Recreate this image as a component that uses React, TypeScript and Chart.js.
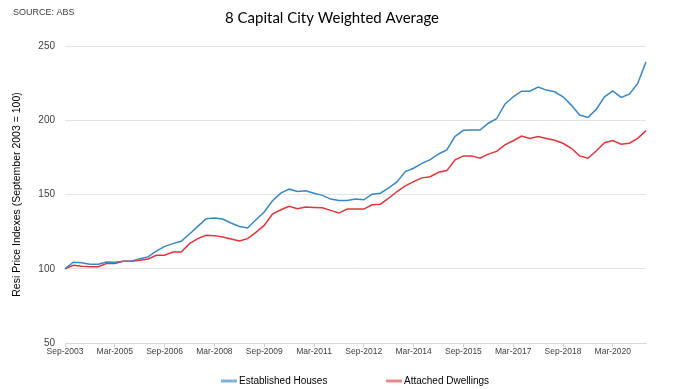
import { useEffect, useRef } from 'react';
import { Chart, registerables } from 'chart.js';
Chart.register(...registerables);

const categories = [
  'Sep-2003', 'Dec-2003', 'Mar-2004', 'Jun-2004', 'Sep-2004', 'Dec-2004', 'Mar-2005', 'Jun-2005',
  'Sep-2005', 'Dec-2005', 'Mar-2006', 'Jun-2006', 'Sep-2006', 'Dec-2006', 'Mar-2007', 'Jun-2007',
  'Sep-2007', 'Dec-2007', 'Mar-2008', 'Jun-2008', 'Sep-2008', 'Dec-2008', 'Mar-2009', 'Jun-2009',
  'Sep-2009', 'Dec-2009', 'Mar-2010', 'Jun-2010', 'Sep-2010', 'Dec-2010', 'Mar-2011', 'Jun-2011',
  'Sep-2011', 'Dec-2011', 'Mar-2012', 'Jun-2012', 'Sep-2012', 'Dec-2012', 'Mar-2013', 'Jun-2013',
  'Sep-2013', 'Dec-2013', 'Mar-2014', 'Jun-2014', 'Sep-2014', 'Dec-2014', 'Mar-2015', 'Jun-2015',
  'Sep-2015', 'Dec-2015', 'Mar-2016', 'Jun-2016', 'Sep-2016', 'Dec-2016', 'Mar-2017', 'Jun-2017',
  'Sep-2017', 'Dec-2017', 'Mar-2018', 'Jun-2018', 'Sep-2018', 'Dec-2018', 'Mar-2019', 'Jun-2019',
  'Sep-2019', 'Dec-2019', 'Mar-2020', 'Jun-2020', 'Sep-2020', 'Dec-2020', 'Mar-2021',
];

const establishedHouses = [
  100, 104.4, 104, 103, 103, 104.6, 104.4, 105, 105, 106.8,
  108, 111.8, 115.1, 116.9, 118.5, 123.4, 128.5, 133.7, 134.2, 133.5,
  130.8, 128.5, 127.4, 133, 138.2, 145.8, 150.9, 153.6, 152, 152.5,
  150.9, 149.4, 146.9, 146, 146, 146.9, 146.4, 150.2, 150.9, 154.5,
  158.5, 165.4, 167.7, 171, 173.5, 177.3, 180, 189.2, 193.2, 193.4,
  193.4, 198, 201, 210.8, 215.8, 219.6, 219.6, 222.3, 220.3, 219.2,
  215.8, 210.2, 203.5, 201.9, 207.3, 215.8, 219.8, 215.4, 217.6, 224.8,
  239.3,
];

const attachedDwellings = [
  100, 102.4, 101.7, 101.3, 101.3, 103.5, 103.5, 105, 105, 105.7,
  106.6, 109.1, 109.1, 111.3, 111.3, 116.9, 120.3, 122.5, 122.3, 121.4,
  120, 118.7, 120.3, 124.5, 129.2, 136.8, 139.7, 142, 140.4, 141.5,
  141.3, 141, 139.3, 137.5, 140.2, 140.2, 140.2, 143.1, 143.5, 147.5,
  152, 155.8, 158.7, 161.2, 162, 165, 166.1, 173.3, 176, 176,
  174.4, 177.2, 179, 183.4, 186.2, 189.4, 187.8, 189, 187.7, 186.5,
  184.5, 181.1, 176, 174.4, 179.3, 184.9, 186.3, 183.8, 184.5, 187.8,
  193,
];

const shownTicks = [
  'Sep-2003', 'Mar-2005', 'Sep-2006', 'Mar-2008', 'Sep-2009', 'Mar-2011',
  'Sep-2012', 'Mar-2014', 'Sep-2015', 'Mar-2017', 'Sep-2018', 'Mar-2020',
];

const seriesNames = ['Established Houses', 'Attached Dwellings'];
const seriesColors = ['#3a87c1', '#e0343a'];
const legendColors = ['#7fb0d6', '#e88a8d'];

const TITLE = '8 Capital City Weighted Average';
const SOURCE = 'SOURCE: ABS';
const Y_TITLE = 'Resi Price Indexes (September 2003 = 100)';

export default function App() {
  const ref = useRef<HTMLCanvasElement>(null);

  useEffect(() => {
    document.body.style.margin = '0';
    const overlay = {
      id: 'overlay',
      afterDraw(chart: any) {
        const ctx = chart.ctx;
        ctx.save();
        ctx.fillStyle = '#404040';
        ctx.font = '9px "Liberation Sans", Arial, sans-serif';
        ctx.textAlign = 'left';
        ctx.textBaseline = 'middle';
        ctx.fillText(SOURCE, 13, 13);

        ctx.fillStyle = '#000000';
        ctx.font = '15px Lato, "Open Sans", sans-serif';
        ctx.textAlign = 'center';
        ctx.fillText(TITLE, 332, 18);

        // legend
        const items = [
          { x: 221, i: 0 },
          { x: 386, i: 1 },
        ];
        ctx.font = '10px "Liberation Sans", Arial, sans-serif';
        ctx.textAlign = 'left';
        for (const it of items) {
          ctx.strokeStyle = legendColors[it.i];
          ctx.lineWidth = 3;
          ctx.beginPath();
          ctx.moveTo(it.x, 381);
          ctx.lineTo(it.x + 16, 381);
          ctx.stroke();
          ctx.fillStyle = '#000000';
          ctx.fillText(chart.data.datasets[it.i].label, it.x + 18, 381);
        }
        ctx.restore();
      },
    };

    const chart = new Chart(ref.current as HTMLCanvasElement, {
      type: 'line',
      data: {
        labels: categories,
        datasets: [
          {
            label: seriesNames[0],
            data: establishedHouses,
            borderColor: seriesColors[0],
            backgroundColor: seriesColors[0],
          },
          {
            label: seriesNames[1],
            data: attachedDwellings,
            borderColor: seriesColors[1],
            backgroundColor: seriesColors[1],
          },
        ],
      },
      options: {
        responsive: false,
        animation: false,
        layout: { padding: { top: 46, right: 34, left: 0, bottom: 0 } },
        elements: {
          point: { radius: 0 },
          line: { tension: 0, borderWidth: 1.5 },
        },
        plugins: {
          legend: { display: false },
          title: { display: false },
          tooltip: { enabled: false },
        },
        scales: {
          x: {
            grid: {
              drawOnChartArea: false,
              drawTicks: true,
              tickLength: 4,
              color: (c: any) => (c.index % 6 === 0 ? '#d0d0d0' : 'rgba(0,0,0,0)'),
            },
            border: { color: '#d9d9d9' },
            ticks: {
              autoSkip: false,
              maxRotation: 0,
              minRotation: 0,
              padding: 0,
              color: '#404040',
              font: { family: '"Liberation Sans", Arial, sans-serif', size: 8.5 },
              callback: (_v: any, i: number) =>
                shownTicks.includes(categories[i]) ? categories[i] : '',
            },
            afterFit: (s: any) => {
              s.height = 46;
            },
          },
          y: {
            min: 50,
            max: 250,
            ticks: {
              stepSize: 50,
              padding: 10,
              color: '#404040',
              font: { family: '"Liberation Sans", Arial, sans-serif', size: 10 },
            },
            grid: { color: '#e3e3e3', drawTicks: false, lineWidth: 1 },
            border: { display: false },
            title: {
              display: true,
              text: Y_TITLE,
              color: '#000000',
              font: { family: '"Liberation Sans", Arial, sans-serif', size: 10.5 },
              padding: { top: 11, bottom: 0 },
            },
            afterFit: (s: any) => {
              s.width = 65;
            },
          },
        },
      },
      plugins: [overlay],
    });
    return () => chart.destroy();
  }, []);

  return (
    <canvas
      ref={ref}
      width={680}
      height={389}
      style={{ display: 'block', width: '680px', height: '389px' }}
    />
  );
}
